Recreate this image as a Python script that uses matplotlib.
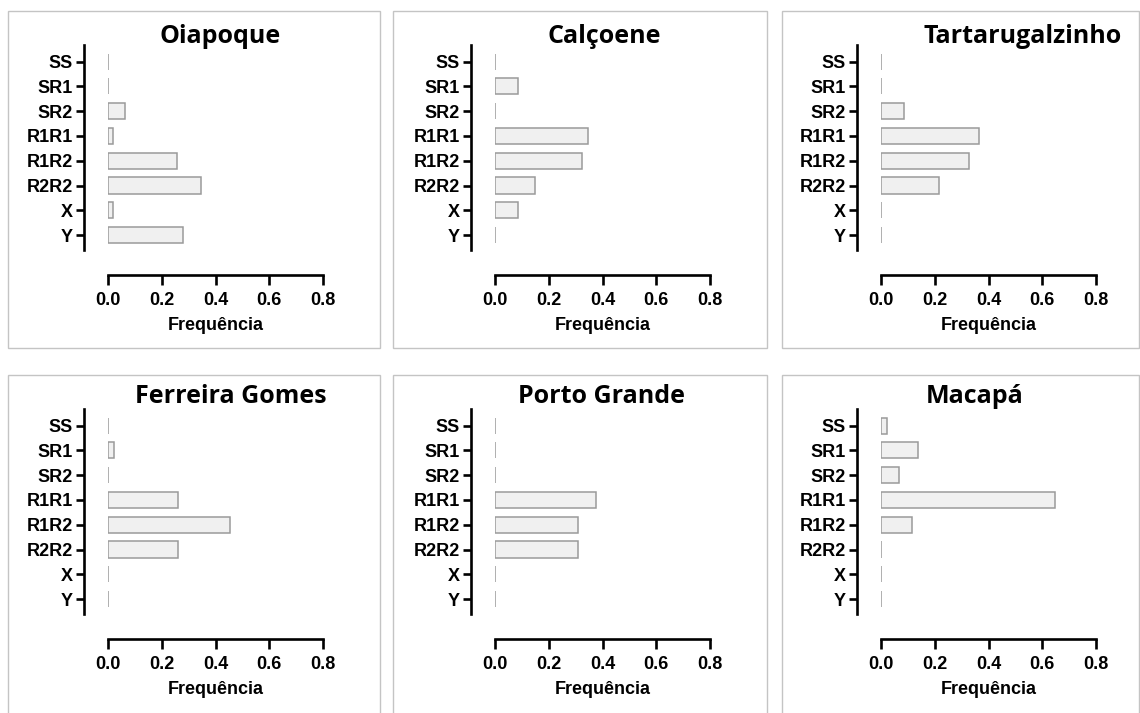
import numpy as np
import matplotlib
matplotlib.use("Agg")
import matplotlib.pyplot as plt
from matplotlib.patches import Rectangle

genotypes = ["SS", "SR1", "SR2", "R1R1", "R1R2", "R2R2", "X", "Y"]
cities = ["Oiapoque", "Calçoene", "Tartarugalzinho",
          "Ferreira Gomes", "Porto Grande", "Macapá"]

oiapoque = [0.0, 0.0, 0.065, 0.02, 0.258, 0.346, 0.02, 0.28]
calcoene = [0.0, 0.084, 0.0, 0.347, 0.322, 0.149, 0.084, 0.0]
tartarugalzinho = [0.0, 0.0, 0.084, 0.366, 0.326, 0.216, 0.0, 0.0]
ferreira_gomes = [0.0, 0.021, 0.0, 0.259, 0.455, 0.259, 0.0, 0.0]
porto_grande = [0.0, 0.0, 0.0, 0.376, 0.309, 0.309, 0.0, 0.0]
macapa = [0.021, 0.139, 0.068, 0.649, 0.114, 0.0, 0.0, 0.0]

freqs = [oiapoque, calcoene, tartarugalzinho,
         ferreira_gomes, porto_grande, macapa]
xticks = [0.0, 0.2, 0.4, 0.6, 0.8]

plt.rcParams["font.family"] = ["Liberation Sans", "DejaVu Sans"]
plt.rcParams["font.weight"] = "bold"
plt.rcParams["axes.labelweight"] = "bold"
plt.rcParams["font.size"] = 13
plt.rcParams["xtick.labelsize"] = 13
plt.rcParams["ytick.labelsize"] = 13

W, H = 1140, 713
fig = plt.figure(figsize=(W / 100, H / 100), dpi=100)

# layout in pixels (top-left origin)
col_x0 = [108, 495, 881]
col_frame = [(8, 380), (393, 767), (782, 1139)]
row_frame = [(11, 348), (375, 740)]
row_dy = [0, 364]
title_x = [220, 604, 1023, 231, 601, 975]

for r in range(2):
    for c in range(3):
        fx0, fx1 = col_frame[c]
        fy0, fy1 = row_frame[r]
        fig.add_artist(Rectangle((fx0 / W, 1 - fy1 / H), (fx1 - fx0) / W,
                                 (fy1 - fy0) / H, transform=fig.transFigure,
                                 fill=False, edgecolor="#c4c4c4", lw=1.0))

for i, (city, vals) in enumerate(zip(cities, freqs)):
    r, c = divmod(i, 3)
    top = 45 + row_dy[r]
    bot = 250 + row_dy[r]
    ax = fig.add_axes([col_x0[c] / W, 1 - bot / H, 215 / W, (bot - top) / H])
    y = np.arange(len(genotypes))
    ax.barh(y, vals, height=0.65, color="#f0f0f0", edgecolor="#9a9a9a",
            linewidth=1.1)
    ax.set_xlim(0, 0.8)
    ax.set_ylim(7.6, -0.67)
    ax.set_yticks(y)
    ax.set_yticklabels(genotypes)
    ax.set_xticks(xticks)
    ax.set_xticklabels([f"{t:.1f}" for t in xticks])
    for s in ["top", "right"]:
        ax.spines[s].set_visible(False)
    # offsets are in points (0.72 pt per px at 100 dpi)
    ax.spines["left"].set_position(("outward", 17.3))
    ax.spines["bottom"].set_position(("outward", 18))
    ax.spines["left"].set_linewidth(1.9)
    ax.spines["bottom"].set_linewidth(1.9)
    ax.tick_params(axis="y", length=5.5, width=1.9, color="black", pad=2.5)
    ax.tick_params(axis="x", length=7, width=1.9, color="black", pad=5)
    ax.set_xlabel("Frequência", labelpad=6)
    fig.text(title_x[i] / W, 1 - (43 + row_dy[r] - 4 * r) / H, city,
             ha="center", va="baseline", family="Open Sans",
             weight="bold", size=18)

fig.savefig("out.png", dpi=100)
